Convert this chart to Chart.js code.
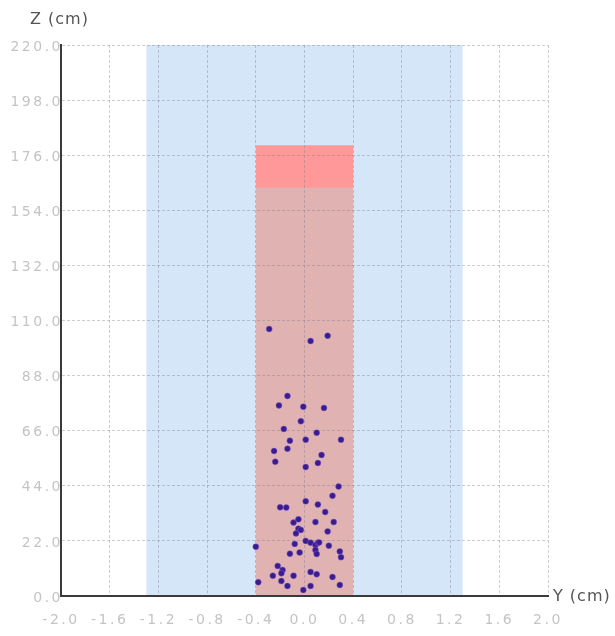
<!DOCTYPE html>
<html>
<head>
<meta charset="utf-8">
<title>Beam profile</title>
<script src="https://cdn.jsdelivr.net/npm/chart.js@4/dist/chart.umd.min.js"></script>
<style>
    html, body { margin: 0; padding: 0; background: #fff; }
    #wrap { width: 615px; height: 636px; position: relative; }
</style>
</head>
<body>
<div id="wrap"><canvas id="beamChart"></canvas></div>
<script>
/**
 * DATA
 */
const xTickValues = [-2.0, -1.6, -1.2, -0.8, -0.4, 0.0, 0.4, 0.8, 1.2, 1.6, 2.0];
const yTickValues = [0, 22, 44, 66, 88, 110, 132, 154, 176, 198, 220];

// light blue band (Y extent, cm)
const bandY = [-1.3, 1.3];
// pink column (Y extent) and its two heights (cm)
const columnY = [-0.4, 0.4];
const columnLowerTop = 163;
const columnUpperTop = 180;

// hit positions: horizontal Y (cm) and height Z (cm)
const hitY = [
    -0.29, 0.05, 0.19,
    -0.14, -0.21, -0.01, 0.16, -0.03, -0.17, 0.10, -0.12, 0.01, 0.30,
    -0.25, -0.14, 0.14, -0.24, 0.11, 0.01,
    0.28, 0.23, 0.01, 0.11, -0.20, -0.15, 0.17, -0.05, -0.09, 0.09, 0.24,
    -0.05, -0.03, -0.07, 0.19,
    -0.40, -0.08, 0.01, 0.05, 0.09, 0.11, 0.12, 0.09, 0.10, 0.20,
    -0.12, -0.04, 0.29, 0.30, -0.22, -0.18, -0.19, -0.26, -0.09, -0.19,
    0.05, 0.10, 0.23, -0.38, -0.14, 0.05, 0.29, -0.01
];
const hitZ = [
    106.6, 101.8, 103.9,
    79.9, 76.1, 75.6, 75.1, 69.8, 66.7, 65.2, 62.0, 62.4, 62.4,
    57.9, 58.8, 56.3, 53.6, 53.1, 51.5,
    43.7, 40.0, 37.8, 36.5, 35.4, 35.3, 33.5, 30.6, 29.3, 29.5, 29.5,
    26.9, 26.4, 25.0, 25.8,
    19.7, 20.8, 22.0, 21.3, 20.4, 21.3, 21.4, 18.4, 16.8, 20.1,
    16.9, 17.4, 17.8, 15.5, 12.0, 10.4, 9.1, 8.1, 8.1, 6.0,
    9.6, 8.7, 7.6, 5.5, 4.0, 4.0, 4.4, 2.4
];

/**
 * CHART
 */
const ChartManager = (() => {
    let chart = null;

    const tickFont = { family: "'DejaVu Sans', sans-serif", size: 14 };
    const gridStyle = {
        color: 'rgba(120, 120, 140, 0.38)',
        lineWidth: 1,
        tickLength: 0
    };

    const hitPoints = () => hitY.map((y, i) => ({ x: y, y: hitZ[i] }));

    // wide spacing of the tick labels
    const spacing = {
        id: 'spacing',
        beforeDraw(c) {
            c.ctx.letterSpacing = '2.5px';
        }
    };

    // axis titles drawn on top
    const axisTitles = {
        id: 'axisTitles',
        afterDraw(c) {
            const ctx = c.ctx;
            const area = c.chartArea;
            ctx.save();
            ctx.letterSpacing = '1px';
            ctx.fillStyle = '#555';
            ctx.font = "16px 'DejaVu Sans', sans-serif";
            ctx.textBaseline = 'middle';
            ctx.textAlign = 'left';
            ctx.fillText('Z (cm)', 30, 20);
            ctx.fillText('Y (cm)', area.right + 5, area.bottom + 1);
            ctx.restore();
        }
    };

    const initChart = () => {
        const ctx = document.getElementById('beamChart');

        chart = new Chart(ctx, {
            type: 'scatter',
            data: {
                datasets: [
                    {
                        label: 'hits',
                        data: hitPoints(),
                        backgroundColor: '#3a1c8e',
                        borderColor: 'rgba(130, 100, 210, 0.45)',
                        borderWidth: 1,
                        pointRadius: 3,
                        order: 0
                    },
                    {
                        label: 'column lower',
                        data: [{ x: columnY[0], y: columnLowerTop }, { x: columnY[1], y: columnLowerTop }],
                        showLine: true,
                        fill: 'origin',
                        backgroundColor: 'rgb(225, 178, 178)',
                        borderWidth: 0,
                        pointRadius: 0,
                        order: 1
                    },
                    {
                        label: 'column upper',
                        data: [{ x: columnY[0], y: columnUpperTop }, { x: columnY[1], y: columnUpperTop }],
                        showLine: true,
                        fill: 'origin',
                        backgroundColor: 'rgb(255, 152, 152)',
                        borderWidth: 0,
                        pointRadius: 0,
                        order: 2
                    },
                    {
                        label: 'band',
                        data: [{ x: bandY[0], y: yTickValues[yTickValues.length - 1] }, { x: bandY[1], y: yTickValues[yTickValues.length - 1] }],
                        showLine: true,
                        fill: 'origin',
                        backgroundColor: 'rgb(214, 230, 249)',
                        borderWidth: 0,
                        pointRadius: 0,
                        order: 3
                    }
                ]
            },
            options: {
                responsive: true,
                maintainAspectRatio: false,
                animation: false,
                layout: {
                    padding: { top: 45, right: 67, left: 0, bottom: 0 }
                },
                plugins: {
                    legend: { display: false },
                    tooltip: { enabled: false },
                    filler: { drawTime: 'beforeDraw' }
                },
                scales: {
                    x: {
                        type: 'linear',
                        min: xTickValues[0],
                        max: xTickValues[xTickValues.length - 1],
                        afterBuildTicks: (s) => { s.ticks = xTickValues.map(v => ({ value: v })); },
                        afterFit: (s) => { s.height = 40; },
                        grid: gridStyle,
                        border: { display: true, color: '#3a3a3a', width: 2, dash: [3, 2] },
                        ticks: {
                            font: tickFont,
                            color: '#c4c4c4',
                            padding: 16,
                            maxRotation: 0,
                            autoSkip: false,
                            callback: (v) => Number(v).toFixed(1)
                        }
                    },
                    y: {
                        type: 'linear',
                        min: yTickValues[0],
                        max: yTickValues[yTickValues.length - 1],
                        afterBuildTicks: (s) => { s.ticks = yTickValues.map(v => ({ value: v })); },
                        afterFit: (s) => { s.width = 61; },
                        grid: gridStyle,
                        border: { display: true, color: '#3a3a3a', width: 2, dash: [3, 2] },
                        ticks: {
                            font: tickFont,
                            color: '#c4c4c4',
                            padding: -2,
                            labelOffset: 2,
                            autoSkip: false,
                            callback: (v) => Number(v).toFixed(1)
                        }
                    }
                }
            },
            plugins: [spacing, axisTitles]
        });

        return chart;
    };

    return { initChart };
})();

ChartManager.initChart();
</script>
</body>
</html>
